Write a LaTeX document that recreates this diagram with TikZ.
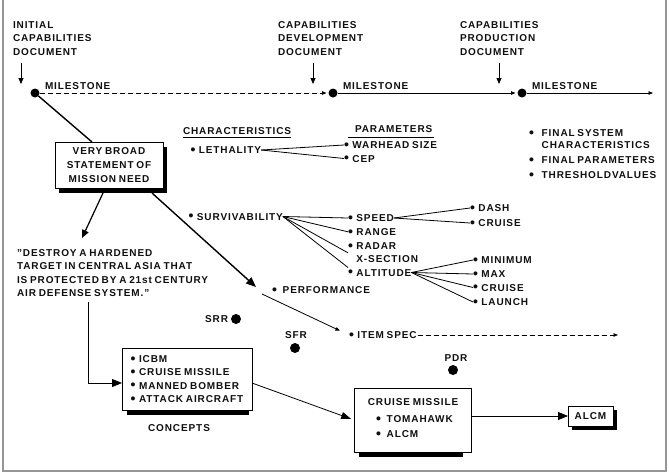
\documentclass[tikz,border=0pt]{standalone}
\usepackage{fontspec}
\setmainfont{Liberation Sans}[LetterSpace=9,WordSpace=0.75]
\usetikzlibrary{arrows.meta,shadows}
\definecolor{txt}{RGB}{15,15,15}
\definecolor{frame}{RGB}{150,150,150}
\newcommand\bu[1]{\smash{\raisebox{-0.8pt}{\scalebox{1.4}{•}}}\hspace{#1}}
\newcommand\bul{\bu{3.5pt}}
\newcommand\bulw{\bu{5.8pt}}
\begin{document}
\begin{tikzpicture}[x=1pt,y=-1pt,
  every node/.style={inner sep=0pt, outer sep=0pt, text=txt, font=\fontsize{10}{13.5}\selectfont\bfseries},
  lbl/.style={anchor=west, text height=7.2pt, text depth=0pt},
  blk/.style={anchor=north west, align=left},
  mdot/.style={circle, fill=black, minimum size=9pt},
  bdot/.style={circle, fill=black, minimum size=10pt},
  boxed/.style={draw, line width=1pt, fill=white},
  thin/.style={line width=0.8pt},
  dsh/.style={dash pattern=on 5pt off 3pt},
  sm/.style={-{Triangle[length=4.5pt,width=3.5pt]}},
  md/.style={-{Triangle[length=6pt,width=5pt]}},
  bg/.style={-{Triangle[length=10pt,width=8pt]}}
]
\useasboundingbox (0,0) rectangle (669,475);
\draw[frame, line width=1.5pt] (3,-2) -- (3,471) -- (666,471) -- (666,-2);

% --- top timeline ---
\node[blk] (icd) at (13,21.4) {INITIAL\\CAPABILITIES\\DOCUMENT};
\node[blk] (cdd) at (278,21.4) {CAPABILITIES\\DEVELOPMENT\\DOCUMENT};
\node[blk] (cpd) at (460,21.4) {CAPABILITIES\\PRODUCTION\\DOCUMENT};
\coordinate (t1s) at (21,63); \coordinate (t1e) at (21,84);
\coordinate (t2s) at (313,63); \coordinate (t2e) at (313,84);
\coordinate (t3s) at (499,63); \coordinate (t3e) at (499,84);
\draw[thin, md] (t1s) -- (t1e);
\draw[thin, md] (t2s) -- (t2e);
\draw[thin, md] (t3s) -- (t3e);

\node[mdot] (m1) at (35,93) {};
\node[mdot] (m2) at (333,93) {};
\node[mdot] (m3) at (522,93) {};
\node[lbl] (ml1) at (45,86) {MILESTONE};
\node[lbl] (ml2) at (343,86) {MILESTONE};
\node[lbl] (ml3) at (532,86) {MILESTONE};
\coordinate (tend) at (653,93);
\draw[thin, dsh, sm, shorten >=2pt] (m1) -- (m2);
\draw[thin, sm, shorten >=2pt] (m2) -- (m3);
\draw[thin, sm] (m3) -- (tend);

% --- mission need ---
\node[boxed, minimum width=108pt, minimum height=46pt, align=center,
      font=\fontsize{10}{14}\selectfont\bfseries,
      drop shadow={shadow xshift=4pt, shadow yshift=-5pt, fill=black, opacity=1}]
      (vb) at (109,165) {VERY BROAD\\STATEMENT OF\\MISSION NEED};
\draw[line width=1.4pt] (m1) -- ([xshift=37pt]vb.north west);

\coordinate (q1) at (82,238);
\draw[line width=1.2pt, -{Triangle[length=8pt,width=7pt]}] ([xshift=48pt,yshift=-5pt]vb.south west) -- (q1);
\coordinate (pf1) at (256,287);
\draw[line width=1.4pt, -{Triangle[length=10pt,width=8pt]}] ([xshift=97pt,yshift=-5pt]vb.south west) -- (pf1);

\node[blk] (qt) at (17,249.4) {"DESTROY A HARDENED\\TARGET IN CENTRAL ASIA THAT\\IS PROTECTED BY A 21st CENTURY\\AIR DEFENSE SYSTEM."};

% --- characteristics / parameters ---
\node[lbl] (ch) at (183,131) {CHARACTERISTICS};
\draw[thin] ([yshift=-2.5pt]ch.south west) -- ([yshift=-2.5pt]ch.south east);
\node[lbl] (pa) at (355,129) {PARAMETERS};
\draw[thin] ([xshift=-7pt,yshift=-5pt]pa.south west) -- ([xshift=2pt,yshift=-5pt]pa.south east);

\node[lbl] (le) at (190.5,150) {\bul LETHALITY};
\node[lbl] (wh) at (344,145) {\bul WARHEAD SIZE};
\node[lbl] (cep) at (344,158.5) {\bul CEP};
\draw[thin] (le.east) -- (wh.west);
\draw[thin] (le.east) -- (cep.west);

\node[lbl] (sv) at (188.5,216.5) {\bul SURVIVABILITY};
\node[lbl] (sp) at (348,218) {\bul SPEED};
\node[lbl] (rg) at (348,231.8) {\bul RANGE};
\node[blk] (rx) at (348,242.6) {\bul RADAR\\\phantom{\bul}X-SECTION};
\node[lbl] (alt) at (348,272.5) {\bul ALTITUDE};
\draw[thin] (sv.east) -- (sp.west);
\draw[thin] (sv.east) -- (rg.west);
\draw[thin] (sv.east) -- (rx.west);
\draw[thin] (sv.east) -- ([yshift=5pt]alt.west);

\node[lbl] (da) at (470,208) {\bul DASH};
\node[lbl] (cr1) at (470,223) {\bul CRUISE};
\draw[thin] (sp.east) -- (da.west);
\draw[thin] (sp.east) -- (cr1.west);

\node[lbl] (mn) at (473,260) {\bul MINIMUM};
\node[lbl] (mx) at (473,274) {\bul MAX};
\node[lbl] (cr2) at (473,287.5) {\bul CRUISE};
\node[lbl] (la) at (473,302) {\bul LAUNCH};
\draw[thin] (alt.east) -- (mn.west);
\draw[thin] (alt.east) -- (mx.west);
\draw[thin] (alt.east) -- (cr2.west);
\draw[thin] (alt.east) -- (la.west);

\node[lbl] (pf) at (272,290) {\bulw PERFORMANCE};

\node[blk, font=\fontsize{10}{12}\selectfont\bfseries] (fs) at (529,129.4) {\bu{7.8pt}FINAL SYSTEM\\\phantom{\bu{7.8pt}}CHARACTERISTICS};
\node[lbl] (fp) at (529,160) {\bu{7.8pt}FINAL PARAMETERS};
\node[lbl] (tv) at (529,175) {\bu{7.8pt}THRESHOLDVALUES};

% --- reviews ---
\node[lbl, anchor=east] (srr) at (228,319) {SRR};
\node[bdot] (srrd) at (236,319) {};
\node[lbl, anchor=center] (sfr) at (296,335) {SFR};
\node[bdot] (sfrd) at (295,348) {};
\node[lbl, anchor=center] (pdr) at (456,358) {PDR};
\node[bdot] (pdrd) at (453,370) {};

\node[lbl] (is) at (349,335) {\bul ITEM SPEC};
\coordinate (isend) at (618,335);
\draw[thin, dsh, sm] ([xshift=1pt]is.east) -- (isend);
\coordinate (pf2) at (262,294);
\draw[thin, sm, shorten >=10pt] (pf2) -- (is.west);

% --- concepts ---
\node[boxed, minimum width=130pt, minimum height=62pt, align=left,
      font=\fontsize{10}{13.3}\selectfont\bfseries]
      (cb) at (187,379) {\bul ICBM\\\bul CRUISE MISSILE\\\bul MANNED BOMBER\\\bul ATTACK AIRCRAFT};
\fill ([xshift=5pt]cb.south west) rectangle ([xshift=-3pt,yshift=-5pt]cb.south east);
\node[lbl, anchor=center] (cl) at (179,428) {CONCEPTS};
\coordinate (q2) at (88,302);
\draw[thin, bg] (q2) |- ([yshift=-4pt]cb.west);

% --- cruise missile ---
\node[boxed, minimum width=117pt, minimum height=64pt] (cm) at (412.5,420) {};
\fill ([xshift=5pt]cm.south west) rectangle ([xshift=-8pt,yshift=-5pt]cm.south east);
\node[lbl, anchor=center] (cmt) at (413,402) {CRUISE MISSILE};
\node[lbl] (cm1) at (376,419) {\bulw TOMAHAWK};
\node[lbl] (cm2) at (376,434) {\bulw ALCM};
\draw[thin, -{Triangle[length=10pt,width=7pt]}, shorten >=3pt] ([yshift=-4pt]cb.east) -- (cm.west);

\node[boxed, minimum width=45pt, minimum height=20pt,
      drop shadow={shadow xshift=4pt, shadow yshift=-4pt, fill=black, opacity=1}]
      (acm) at (590.5,416) {ALCM};
\draw[thin, bg] (cm.east |- acm.west) -- (acm.west);
\end{tikzpicture}
\end{document}
